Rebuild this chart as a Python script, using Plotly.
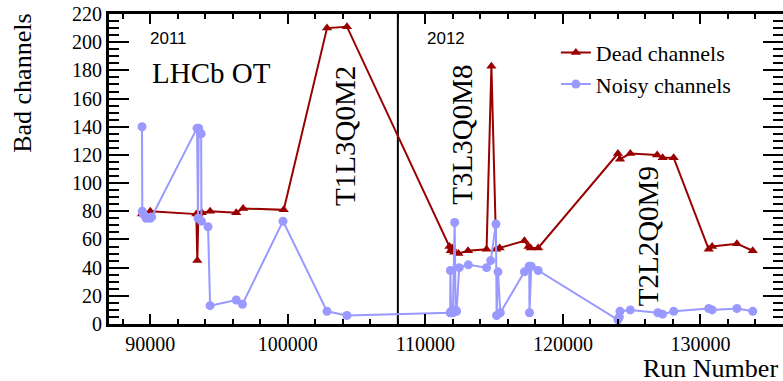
import plotly.graph_objects as go

# ---- data ----
dead_runs = [89400, 90000, 93350, 93420, 93500, 93750, 94350, 96250, 96750, 99700,
             102850, 104300, 111750, 111850, 111950, 112100, 112400, 113100, 114450,
             114800, 115150, 115400, 117200, 117500, 117650, 118200, 124000, 124150,
             124900, 126850, 127250, 128050, 130600, 130850, 132650, 133800]
dead_vals = [78, 80, 78, 45, 78, 79, 80, 79, 82, 81,
             210, 211, 55, 52, 54, 51, 50, 52, 53,
             183, 53, 54, 59, 55, 54, 54, 121, 117,
             121, 120, 118, 118, 53, 55, 57, 52]

noisy_runs = [89400, 89420, 89500, 89700, 90000, 90100, 93400, 93470, 93520, 93700,
              93720, 94200, 94350, 96250, 96700, 99650, 102850, 104300, 111800, 111820,
              111870, 112000, 112130, 112200, 112270, 112460, 113120, 114450, 114750,
              115130, 115180, 115280, 115450, 117200, 117550, 117570, 117700, 118200,
              124000, 124100, 124150, 124900, 126900, 127250, 128050, 130600, 130850,
              132650, 133800]
noisy_vals = [140, 80, 78, 75, 75, 76, 139, 75, 139, 135,
              73, 69, 13, 17, 14, 73, 9, 6, 8, 38,
              9, 8, 72, 10, 9, 40, 42, 40, 45,
              71, 6, 37, 8, 37, 41, 8, 41, 38,
              3, 5, 9, 10, 8, 7, 9, 11, 10,
              11, 9]

x_major_ticks = [90000, 100000, 110000, 120000, 130000]
y_major_ticks = [0, 20, 40, 60, 80, 100, 120, 140, 160, 180, 200, 220]

year_boundary = 108000
x_range = [87000, 136000]
y_range = [0, 220]

DEAD_COLOR = "#990000"
NOISY_COLOR = "#9999ff"
SERIF = "Liberation Serif"
SANS = "Liberation Sans"

fig = go.Figure()
# 2011 / 2012 boundary, drawn through the data axes
fig.add_trace(go.Scatter(
    x=[year_boundary, year_boundary], y=y_range, mode="lines", showlegend=False,
    hoverinfo="skip", line=dict(color="black", width=2),
))
fig.add_trace(go.Scatter(
    x=dead_runs, y=dead_vals, mode="lines+markers", name="Dead channels",
    line=dict(color=DEAD_COLOR, width=2),
    marker=dict(symbol="triangle-up", size=9, color=DEAD_COLOR),
))
fig.add_trace(go.Scatter(
    x=noisy_runs, y=noisy_vals, mode="lines+markers", name="Noisy channels",
    line=dict(color=NOISY_COLOR, width=2),
    marker=dict(symbol="circle", size=9, color=NOISY_COLOR),
))

fig.update_layout(
    template="none",
    width=783, height=381,
    margin=dict(l=109, r=0, t=14, b=57, autoexpand=False),
    plot_bgcolor="white", paper_bgcolor="white",
    font=dict(family=SERIF, size=20, color="black"),
    xaxis=dict(range=x_range, tickvals=x_major_ticks, tickformat="d", automargin=False,
               showline=True, linecolor="black", linewidth=3, mirror="ticks",
               ticks="inside", ticklen=10, tickwidth=2, tickcolor="black",
               minor=dict(dtick=2000, tick0=0, ticks="inside", ticklen=5,
                          tickwidth=2, tickcolor="black"),
               showgrid=False, zeroline=False,
               tickfont=dict(family=SERIF, size=20, color="black")),
    yaxis=dict(range=y_range, tickvals=y_major_ticks, tickformat="d", automargin=False,
               showline=True, linecolor="black", linewidth=3, mirror="ticks",
               ticks="inside", ticklen=20, tickwidth=2, tickcolor="black",
               minor=dict(dtick=5, tick0=0, ticks="inside", ticklen=10,
                          tickwidth=2, tickcolor="black"),
               showgrid=False, zeroline=False,
               tickfont=dict(family=SERIF, size=20, color="black")),
    showlegend=True,
    legend=dict(x=0.663, y=0.943, xanchor="left", yanchor="top",
                bgcolor="rgba(0,0,0,0)", borderwidth=0,
                font=dict(family=SERIF, size=22, color="black")),
)

ann = [
    dict(text="Bad channels", x=-0.1283, y=0.7765, textangle=-90,
         font=dict(family=SERIF, size=26, color="black")),
    dict(text="Run Number", x=0.996, y=-0.142, xanchor="right",
         font=dict(family=SERIF, size=26, color="black")),
    dict(text="2011", x=0.0883, y=0.921, font=dict(family=SANS, size=17, color="black")),
    dict(text="2012", x=0.5, y=0.921, font=dict(family=SANS, size=17, color="black")),
    dict(text="LHCb OT", x=0.1523, y=0.8087, font=dict(family=SERIF, size=29, color="black")),
    dict(text="T1L3Q0M2", x=0.350, y=0.6065, textangle=-90, font=dict(family=SERIF, size=29, color="black")),
    dict(text="T3L3Q0M8", x=0.5233, y=0.6097, textangle=-90, font=dict(family=SERIF, size=29, color="black")),
    dict(text="T2L2Q0M9", x=0.8001, y=0.2839, textangle=-90, font=dict(family=SERIF, size=29, color="black")),
]
for a in ann:
    a.setdefault("xanchor", "center")
    a.update(xref="paper", yref="paper", showarrow=False, yanchor="middle")
    fig.add_annotation(**a)

fig.write_html("out.html")
